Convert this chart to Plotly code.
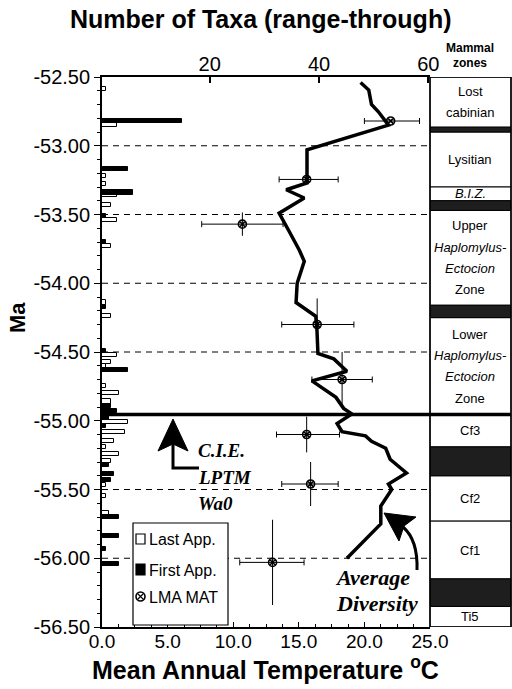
import plotly.graph_objects as go

# ---------------- data ----------------
# Last appearances (open bars): age (Ma) and number of taxa
last_app_ma = [-52.59, -52.85, -53.22, -53.28, -53.36, -53.43, -53.54, -53.73, -54.14, -54.24,
               -54.52, -54.57, -54.60, -54.75, -54.80, -54.86, -55.01, -55.08, -55.15, -55.19,
               -55.24, -55.29, -55.47, -55.55, -55.67]
last_app_n = [1, 3, 1, 1, 3, 2, 3, 2, 1, 2,
              3, 2, 1, 1, 3.5, 2, 5, 4.5, 2.5, 1,
              3.5, 2, 1, 1, 1.5]

# First appearances (black bars)
first_app_ma = [-52.82, -53.17, -53.34, -53.51, -53.70, -54.17, -54.49, -54.63, -54.89, -54.93,
                -54.98, -55.04, -55.32, -55.39, -55.43, -55.70, -55.84, -55.93, -56.04]
first_app_n = [15, 5, 6, 1, 1, 1, 1, 5, 2, 3,
               1.5, 1, 1.5, 2.5, 2, 3.5, 3.5, 1, 3.5]

# Average diversity (range-through taxa)
diversity_ma = [-52.54, -52.595, -52.70, -52.755, -52.85, -53.03, -53.27, -53.32, -53.38, -53.49,
                -53.62, -53.76, -53.84, -54.00, -54.14, -54.24, -54.32, -54.51, -54.55, -54.64,
                -54.71, -54.83, -54.91, -54.95, -55.02, -55.08, -55.11, -55.15, -55.20, -55.28,
                -55.38, -55.46, -55.50, -55.62, -55.75, -56.00]
diversity_n = [47.6, 49.1, 49.6, 50.9, 52.7, 37.8, 37.8, 34.0, 37.3, 32.7,
               34.5, 36.4, 37.3, 36.0, 35.8, 39.4, 39.6, 39.8, 42.7, 45.1,
               38.7, 43.1, 44.5, 46.0, 43.3, 44.2, 48.5, 49.6, 52.2, 53.0,
               56.0, 52.7, 53.3, 51.3, 51.3, 45.1]

# Leaf-margin-analysis mean annual temperature
mat_ma = [-52.82, -53.245, -53.57, -54.30, -54.70, -55.10, -55.46, -56.03]
mat_temp = [22.0, 15.6, 10.7, 16.4, 18.3, 15.6, 15.9, 13.0]
mat_temp_plus = [2.2, 2.4, 3.1, 2.8, 2.3, 2.5, 2.1, 2.4]
mat_temp_minus = [2.0, 2.1, 3.1, 2.7, 2.3, 2.3, 2.2, 2.5]
mat_ma_err = [0.0, 0.035, 0.085, 0.19, 0.20, 0.13, 0.16, 0.31]

# Mammal zones
zone_names = ["Lost<br>cabinian", "Lysitian", "<i>B.I.Z.</i>",
              "Upper<br><i>Haplomylus-</i><br><i>Ectocion</i><br>Zone",
              "Lower<br><i>Haplomylus-</i><br><i>Ectocion</i><br>Zone",
              "Cf3", "Cf2", "Cf1", "Ti5"]
zone_top = [-52.50, -52.90, -53.30, -53.47, -54.25, -54.955, -55.40, -55.73, -56.35]
zone_bottom = [-52.865, -53.30, -53.40, -54.16, -54.955, -55.19, -55.73, -56.15, -56.50]
band_top = [-52.865, -53.40, -54.16, -55.19, -56.15]
band_bottom = [-52.90, -53.47, -54.25, -55.40, -56.35]
cie_ma = -54.955

# Ticks
y_tick_vals = [-52.5, -53.0, -53.5, -54.0, -54.5, -55.0, -55.5, -56.0, -56.5]
y_tick_text = ["-52.50", "-53.00", "-53.50", "-54.00", "-54.50", "-55.00", "-55.50", "-56.00", "-56.50"]
temp_tick_vals = [0, 5, 10, 15, 20, 25]
temp_tick_text = ["0.0", "5.0", "10.0", "15.0", "20.0", "25.0"]
taxa_tick_vals = [0, 20, 40, 60]
taxa_tick_text = ["0", "20", "40", "60"]
grid_ma = [-53.0, -53.5, -54.0, -54.5, -55.5, -56.0]
legend_labels = ["Last App.", "First App.", "LMA MAT"]

# ---------------- layout geometry ----------------
W, H = 512, 689
ML, MR, MT, MB = 102, 82, 77, 62
PW, PH = W - ML - MR, H - MT - MB


def px(xp):
    return (xp - ML) / PW


def py(yp):
    return (H - MB - yp) / PH


SANS = "Arial, Liberation Sans, Helvetica, sans-serif"
SERIF = "Times New Roman, Liberation Serif, serif"

fig = go.Figure()

fig.add_trace(go.Bar(
    y=last_app_ma, x=last_app_n, orientation="h", xaxis="x2", yaxis="y",
    width=0.03, marker=dict(color="white", line=dict(color="black", width=1)),
    name=legend_labels[0], showlegend=False))
fig.add_trace(go.Bar(
    y=first_app_ma, x=first_app_n, orientation="h", xaxis="x2", yaxis="y",
    width=0.03, marker=dict(color="black", line=dict(color="black", width=1)),
    name=legend_labels[1], showlegend=False))
fig.add_trace(go.Scatter(
    y=diversity_ma, x=diversity_n, xaxis="x2", yaxis="y", mode="lines",
    line=dict(color="black", width=3.5), showlegend=False))
fig.add_trace(go.Scatter(
    y=mat_ma, x=mat_temp, xaxis="x", yaxis="y", mode="markers",
    marker=dict(symbol="circle-x-open", size=8, color="black", line=dict(color="black", width=1.6)),
    error_x=dict(type="data", symmetric=False, array=mat_temp_plus, arrayminus=mat_temp_minus,
                 color="black", thickness=1, width=3),
    error_y=dict(type="data", array=mat_ma_err, color="black", thickness=1, width=0),
    name=legend_labels[2], showlegend=False))

shapes = []
# dashed gridlines
for g in grid_ma:
    shapes.append(dict(type="line", xref="paper", yref="y", x0=0, x1=1, y0=g, y1=g,
                       line=dict(color="black", width=1, dash="6px,5px"), layer="below"))

# zone column
zx0, zx1 = 1.0, px(511)
for t, b in zip(zone_top, zone_bottom):
    shapes.append(dict(type="rect", xref="paper", yref="y", x0=zx0, x1=zx1, y0=t, y1=b,
                       line=dict(color="black", width=1), fillcolor="white"))
for t, b in zip(band_top, band_bottom):
    shapes.append(dict(type="rect", xref="paper", yref="y", x0=zx0, x1=zx1, y0=t, y1=b,
                       line=dict(color="black", width=1), fillcolor="#1e1e1e"))
shapes.append(dict(type="rect", xref="paper", yref="y", x0=zx0, x1=zx1, y0=-52.5, y1=-56.5,
                   line=dict(color="black", width=1.5)))
# CIE boundary
shapes.append(dict(type="line", xref="paper", yref="y", x0=0, x1=zx1, y0=cie_ma, y1=cie_ma,
                   line=dict(color="black", width=3.5)))

# C.I.E. arrow (L-shaped)
shapes.append(dict(type="path", xref="paper", yref="paper",
                   path=f"M {px(173)},{py(444)} L {px(173)},{py(468)} L {px(199)},{py(468)}",
                   line=dict(color="black", width=3)))
shapes.append(dict(type="path", xref="paper", yref="paper",
                   path=f"M {px(173)},{py(419)} L {px(158)},{py(451)} L {px(173)},{py(444)} L {px(188)},{py(451)} Z",
                   line=dict(color="black", width=1), fillcolor="black"))
# Average diversity curved arrow
shapes.append(dict(type="path", xref="paper", yref="paper",
                   path=f"M {px(403)},{py(527)} Q {px(418)},{py(540)} {px(417)},{py(570)}",
                   line=dict(color="black", width=3)))
shapes.append(dict(type="path", xref="paper", yref="paper",
                   path=f"M {px(384)},{py(513)} L {px(416)},{py(517)} L {px(404)},{py(526)} L {px(399)},{py(541)} Z",
                   line=dict(color="black", width=1), fillcolor="black"))

# hand-drawn legend box
shapes.append(dict(type="rect", xref="paper", yref="paper", x0=px(133), x1=px(228), y0=py(523), y1=py(625),
                   line=dict(color="black", width=1.2), fillcolor="white"))
shapes.append(dict(type="rect", xref="paper", yref="paper", x0=px(136), x1=px(145), y0=py(534), y1=py(544),
                   line=dict(color="black", width=1.2), fillcolor="white"))
shapes.append(dict(type="rect", xref="paper", yref="paper", x0=px(136), x1=px(145), y0=py(564), y1=py(575),
                   line=dict(color="black", width=1.2), fillcolor="black"))
shapes.append(dict(type="circle", xref="paper", yref="paper", x0=px(136), x1=px(145), y0=py(592), y1=py(601),
                   line=dict(color="black", width=1.6), fillcolor="white"))
shapes.append(dict(type="path", xref="paper", yref="paper",
                   path=f"M {px(137.5)},{py(593.5)} L {px(143.5)},{py(599.5)} M {px(137.5)},{py(599.5)} L {px(143.5)},{py(593.5)}",
                   line=dict(color="black", width=1.2)))

annotations = []


def note(x, y, text, size, family=SANS, xanchor="center", xref="paper", yref="paper", angle=0):
    annotations.append(dict(xref=xref, yref=yref, x=x, y=y, text=text, showarrow=False,
                            xanchor=xanchor, yanchor="middle", textangle=angle,
                            font=dict(family=family, size=size, color="black")))


for txt, yy in zip(legend_labels, [539, 570, 597]):
    note(px(147), py(yy), txt, 16, xanchor="left")

# zone labels, one annotation per line
line_step = 0.155
zone_cx = px(470)
for name, t, b in zip(zone_names, zone_top, zone_bottom):
    lines = name.split("<br>")
    mid = (t + b) / 2
    n = len(lines)
    for i, ln in enumerate(lines):
        note(zone_cx, mid + ((n - 1) / 2 - i) * line_step, ln, 13, yref="y")
note(zone_cx, py(48), "<b>Mammal</b>", 12)
note(zone_cx, py(63), "<b>zones</b>", 12)

# titles
note(px(260), py(19), "<b>Number of Taxa (range-through)</b>", 25)
note(px(265), py(668), "<b>Mean Annual Temperature <sup>o</sup>C</b>", 25)
note(px(17), py(318), "<b>Ma</b>", 22, angle=-90)

# event labels
for txt, yy in [("C.I.E.", 451), ("LPTM", 477), ("Wa0", 503)]:
    note(px(196), py(yy), f"<b><i>{txt}</i></b>", 19, family=SERIF, xanchor="left")
for txt, xx, yy in [("Average", 333, 577), ("Diversity", 334, 603)]:
    note(px(xx), py(yy), f"<b><i>{txt}</i></b>", 22, family=SERIF, xanchor="left")

fig.update_layout(
    width=W, height=H,
    margin=dict(l=ML, r=MR, t=MT, b=MB, autoexpand=False),
    paper_bgcolor="white", plot_bgcolor="white",
    barmode="overlay", bargap=0, showlegend=False,
    font=dict(family=SANS, color="black"),
    xaxis=dict(range=[0, 25], tickvals=temp_tick_vals, ticktext=temp_tick_text,
               showline=True, linecolor="black", linewidth=1.5, ticks="inside", ticklen=5,
               tickcolor="black", showgrid=False, zeroline=False, ticklabelstandoff=-4,
               tickfont=dict(family=SANS, size=19, color="black"),
               minor=dict(dtick=1.25, ticks="inside", ticklen=3, tickcolor="black", showgrid=False),
               anchor="y"),
    xaxis2=dict(range=[0.3, 60.3], tickvals=taxa_tick_vals, ticktext=taxa_tick_text,
                overlaying="x", side="top", anchor="y",
                showline=True, linecolor="black", linewidth=1.5, ticks="inside", ticklen=6,
                tickcolor="black", tickwidth=2, showgrid=False, zeroline=False, ticklabelstandoff=-4,
                tickfont=dict(family=SANS, size=20, color="black")),
    yaxis=dict(range=[-56.5, -52.5], tickvals=y_tick_vals, ticktext=y_tick_text,
               showline=True, linecolor="black", linewidth=1.8, ticks="outside", ticklen=6,
               tickcolor="black", showgrid=False, zeroline=False,
               tickfont=dict(family=SANS, size=20, color="black"),
               minor=dict(dtick=0.1, tick0=-52.5, ticks="outside", ticklen=3, tickcolor="black",
                          showgrid=False)),
    shapes=shapes, annotations=annotations,
)

fig.write_html("out.html", config={"displayModeBar": False},
               post_script="document.body.style.margin='0px';document.body.style.overflow='hidden';")
